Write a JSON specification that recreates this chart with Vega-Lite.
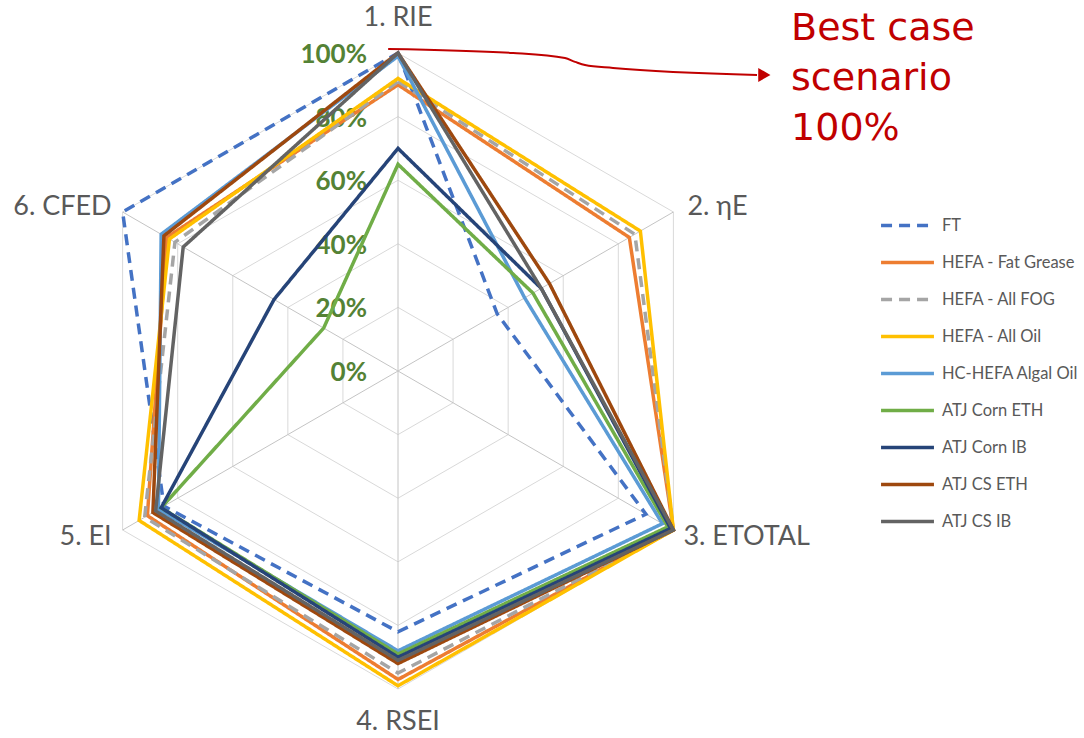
{
  "$schema": "https://vega.github.io/schema/vega-lite/v6.json",
  "width": 1084,
  "height": 738,
  "padding": 0,
  "autosize": {"type": "none"},
  "background": "white",
  "config": {
    "view": {"stroke": null},
    "font": "Lato",
    "legend": {
      "orient": "none",
      "legendX": 879,
      "legendY": 197,
      "title": null,
      "labelFont": "Lato",
      "labelFontSize": 16.5,
      "labelColor": "#595959",
      "labelOffset": 6,
      "symbolType": "stroke",
      "symbolSize": 2800,
      "symbolStrokeWidth": 3.5,
      "rowPadding": -8
    }
  },
  "datasets": {
    "metrics": [
      {"k": 0, "metric": "1. RIE"},
      {"k": 1, "metric": "2. ηE"},
      {"k": 2, "metric": "3. ETOTAL"},
      {"k": 3, "metric": "4. RSEI"},
      {"k": 4, "metric": "5. EI"},
      {"k": 5, "metric": "6. CFED"}
    ],
    "rings": [
      {"level": 0.2, "ks": [0, 1, 2, 3, 4, 5]},
      {"level": 0.4, "ks": [0, 1, 2, 3, 4, 5]},
      {"level": 0.6, "ks": [0, 1, 2, 3, 4, 5]},
      {"level": 0.8, "ks": [0, 1, 2, 3, 4, 5]},
      {"level": 1.0, "ks": [0, 1, 2, 3, 4, 5]}
    ],
    "levels": [
      {"level": 0}, {"level": 0.2}, {"level": 0.4}, {"level": 0.6}, {"level": 0.8}, {"level": 1.0}
    ],
    "scores": [
      {"pathway": "FT", "k": 0, "score": 1.00},
      {"pathway": "FT", "k": 1, "score": 0.36},
      {"pathway": "FT", "k": 2, "score": 0.90},
      {"pathway": "FT", "k": 3, "score": 0.82},
      {"pathway": "FT", "k": 4, "score": 0.85},
      {"pathway": "FT", "k": 5, "score": 1.00},
      {"pathway": "HEFA - Fat Grease", "k": 0, "score": 0.90},
      {"pathway": "HEFA - Fat Grease", "k": 1, "score": 0.84},
      {"pathway": "HEFA - Fat Grease", "k": 2, "score": 1.00},
      {"pathway": "HEFA - Fat Grease", "k": 3, "score": 0.97},
      {"pathway": "HEFA - Fat Grease", "k": 4, "score": 0.91},
      {"pathway": "HEFA - Fat Grease", "k": 5, "score": 0.84},
      {"pathway": "HEFA - All FOG", "k": 0, "score": 0.91},
      {"pathway": "HEFA - All FOG", "k": 1, "score": 0.86},
      {"pathway": "HEFA - All FOG", "k": 2, "score": 1.00},
      {"pathway": "HEFA - All FOG", "k": 3, "score": 0.95},
      {"pathway": "HEFA - All FOG", "k": 4, "score": 0.92},
      {"pathway": "HEFA - All FOG", "k": 5, "score": 0.81},
      {"pathway": "HEFA - All Oil", "k": 0, "score": 0.92},
      {"pathway": "HEFA - All Oil", "k": 1, "score": 0.88},
      {"pathway": "HEFA - All Oil", "k": 2, "score": 1.00},
      {"pathway": "HEFA - All Oil", "k": 3, "score": 0.99},
      {"pathway": "HEFA - All Oil", "k": 4, "score": 0.94},
      {"pathway": "HEFA - All Oil", "k": 5, "score": 0.83},
      {"pathway": "HC-HEFA Algal Oil", "k": 0, "score": 0.99},
      {"pathway": "HC-HEFA Algal Oil", "k": 1, "score": 0.46},
      {"pathway": "HC-HEFA Algal Oil", "k": 2, "score": 0.96},
      {"pathway": "HC-HEFA Algal Oil", "k": 3, "score": 0.88},
      {"pathway": "HC-HEFA Algal Oil", "k": 4, "score": 0.87},
      {"pathway": "HC-HEFA Algal Oil", "k": 5, "score": 0.86},
      {"pathway": "ATJ Corn ETH", "k": 0, "score": 0.65},
      {"pathway": "ATJ Corn ETH", "k": 1, "score": 0.49},
      {"pathway": "ATJ Corn ETH", "k": 2, "score": 0.98},
      {"pathway": "ATJ Corn ETH", "k": 3, "score": 0.89},
      {"pathway": "ATJ Corn ETH", "k": 4, "score": 0.86},
      {"pathway": "ATJ Corn ETH", "k": 5, "score": 0.27},
      {"pathway": "ATJ Corn IB", "k": 0, "score": 0.70},
      {"pathway": "ATJ Corn IB", "k": 1, "score": 0.52},
      {"pathway": "ATJ Corn IB", "k": 2, "score": 0.99},
      {"pathway": "ATJ Corn IB", "k": 3, "score": 0.90},
      {"pathway": "ATJ Corn IB", "k": 4, "score": 0.86},
      {"pathway": "ATJ Corn IB", "k": 5, "score": 0.45},
      {"pathway": "ATJ CS ETH", "k": 0, "score": 1.00},
      {"pathway": "ATJ CS ETH", "k": 1, "score": 0.55},
      {"pathway": "ATJ CS ETH", "k": 2, "score": 1.00},
      {"pathway": "ATJ CS ETH", "k": 3, "score": 0.92},
      {"pathway": "ATJ CS ETH", "k": 4, "score": 0.89},
      {"pathway": "ATJ CS ETH", "k": 5, "score": 0.85},
      {"pathway": "ATJ CS IB", "k": 0, "score": 1.00},
      {"pathway": "ATJ CS IB", "k": 1, "score": 0.52},
      {"pathway": "ATJ CS IB", "k": 2, "score": 1.00},
      {"pathway": "ATJ CS IB", "k": 3, "score": 0.91},
      {"pathway": "ATJ CS IB", "k": 4, "score": 0.88},
      {"pathway": "ATJ CS IB", "k": 5, "score": 0.78}
    ],
    "callout": [
      {"px": -0.031, "py": 1.013},
      {"px": 0.362, "py": 1.0},
      {"px": 0.525, "py": 0.984},
      {"px": 0.557, "py": 0.972},
      {"px": 0.588, "py": 0.962},
      {"px": 0.676, "py": 0.953},
      {"px": 1.129, "py": 0.931}
    ],
    "callout_head": [{"px": 1.152, "py": 0.931}],
    "callout_text": [{"px": 1.236, "py": 1.041}]
  },
  "encoding": {
    "x": {"field": "px", "type": "quantitative", "scale": {"domain": [-1.2516, 2.1572], "nice": false, "zero": false}, "axis": null},
    "y": {"field": "py", "type": "quantitative", "scale": {"domain": [-1.1541, 1.1667], "nice": false, "zero": false}, "axis": null}
  },
  "layer": [
    {
      "data": {"name": "rings"},
      "transform": [
        {"flatten": ["ks"], "as": ["k"]},
        {"calculate": "datum.level * sin(datum.k * PI / 3)", "as": "px"},
        {"calculate": "datum.level * cos(datum.k * PI / 3)", "as": "py"}
      ],
      "mark": {"type": "line", "interpolate": "linear-closed", "stroke": "#D9D9D9", "strokeWidth": 1},
      "encoding": {
        "detail": {"field": "level", "type": "nominal"},
        "order": {"field": "k", "type": "quantitative"}
      }
    },
    {
      "data": {"name": "metrics"},
      "transform": [
        {"calculate": "sin(datum.k * PI / 3)", "as": "px"},
        {"calculate": "cos(datum.k * PI / 3)", "as": "py"}
      ],
      "mark": {"type": "rule", "stroke": "#C4C4C4", "strokeWidth": 1},
      "encoding": {
        "x2": {"datum": 0},
        "y2": {"datum": 0}
      }
    },
    {
      "data": {"name": "levels"},
      "transform": [
        {"calculate": "0", "as": "px"},
        {"calculate": "datum.level", "as": "py"}
      ],
      "mark": {"type": "text", "align": "right", "baseline": "middle", "dx": -31, "dy": 2, "fontSize": 26, "fontWeight": "bold", "font": "Lato", "color": "#548235"},
      "encoding": {
        "text": {"field": "level", "type": "quantitative", "format": ".0%"}
      }
    },
    {
      "data": {"name": "scores"},
      "transform": [
        {"calculate": "datum.score * sin(datum.k * PI / 3)", "as": "px"},
        {"calculate": "datum.score * cos(datum.k * PI / 3)", "as": "py"}
      ],
      "mark": {"type": "line", "interpolate": "linear-closed", "strokeWidth": 3.5, "strokeJoin": "miter"},
      "encoding": {
        "order": {"field": "k", "type": "quantitative"},
        "color": {
          "field": "pathway",
          "type": "nominal",
          "sort": null,
          "scale": {
            "domain": ["FT", "HEFA - Fat Grease", "HEFA - All FOG", "HEFA - All Oil", "HC-HEFA Algal Oil", "ATJ Corn ETH", "ATJ Corn IB", "ATJ CS ETH", "ATJ CS IB"],
            "range": ["#4472C4", "#ED7D31", "#A5A5A5", "#FFC000", "#5B9BD5", "#70AD47", "#264478", "#9E480E", "#636363"]
          }
        },
        "strokeDash": {
          "field": "pathway",
          "type": "nominal",
          "sort": null,
          "scale": {
            "domain": ["FT", "HEFA - Fat Grease", "HEFA - All FOG", "HEFA - All Oil", "HC-HEFA Algal Oil", "ATJ Corn ETH", "ATJ Corn IB", "ATJ CS ETH", "ATJ CS IB"],
            "range": [[11, 7], [1, 0], [11, 7], [1, 0], [1, 0], [1, 0], [1, 0], [1, 0], [1, 0]]
          }
        }
      }
    },
    {
      "data": {"name": "metrics"},
      "transform": [
        {"filter": "datum.k == 0"},
        {"calculate": "sin(datum.k * PI / 3)", "as": "px"},
        {"calculate": "cos(datum.k * PI / 3)", "as": "py"}
      ],
      "mark": {"type": "text", "align": "center", "baseline": "middle", "dy": -35, "fontSize": 27, "font": "Lato", "color": "#595959"},
      "encoding": {"text": {"field": "metric"}}
    },
    {
      "data": {"name": "metrics"},
      "transform": [
        {"filter": "datum.k == 1"},
        {"calculate": "sin(datum.k * PI / 3)", "as": "px"},
        {"calculate": "cos(datum.k * PI / 3)", "as": "py"}
      ],
      "mark": {"type": "text", "align": "left", "baseline": "middle", "dx": 14, "dy": -5, "fontSize": 27, "font": "Lato", "color": "#595959"},
      "encoding": {"text": {"field": "metric"}}
    },
    {
      "data": {"name": "metrics"},
      "transform": [
        {"filter": "datum.k == 2"},
        {"calculate": "sin(datum.k * PI / 3)", "as": "px"},
        {"calculate": "cos(datum.k * PI / 3)", "as": "py"}
      ],
      "mark": {"type": "text", "align": "left", "baseline": "middle", "dx": 10, "dy": 7, "fontSize": 27, "font": "Lato", "color": "#595959"},
      "encoding": {"text": {"field": "metric"}}
    },
    {
      "data": {"name": "metrics"},
      "transform": [
        {"filter": "datum.k == 3"},
        {"calculate": "sin(datum.k * PI / 3)", "as": "px"},
        {"calculate": "cos(datum.k * PI / 3)", "as": "py"}
      ],
      "mark": {"type": "text", "align": "center", "baseline": "middle", "dy": 33, "fontSize": 27, "font": "Lato", "color": "#595959"},
      "encoding": {"text": {"field": "metric"}}
    },
    {
      "data": {"name": "metrics"},
      "transform": [
        {"filter": "datum.k == 4"},
        {"calculate": "sin(datum.k * PI / 3)", "as": "px"},
        {"calculate": "cos(datum.k * PI / 3)", "as": "py"}
      ],
      "mark": {"type": "text", "align": "right", "baseline": "middle", "dx": -11, "dy": 7, "fontSize": 27, "font": "Lato", "color": "#595959"},
      "encoding": {"text": {"field": "metric"}}
    },
    {
      "data": {"name": "metrics"},
      "transform": [
        {"filter": "datum.k == 5"},
        {"calculate": "sin(datum.k * PI / 3)", "as": "px"},
        {"calculate": "cos(datum.k * PI / 3)", "as": "py"}
      ],
      "mark": {"type": "text", "align": "right", "baseline": "middle", "dx": -11, "dy": -5, "fontSize": 27, "font": "Lato", "color": "#595959"},
      "encoding": {"text": {"field": "metric"}}
    },
    {
      "data": {"name": "callout"},
      "mark": {"type": "line", "interpolate": "monotone", "stroke": "#C00000", "strokeWidth": 2},
      "encoding": {"order": {"field": "px", "type": "quantitative"}}
    },
    {
      "data": {"name": "callout_head"},
      "mark": {"type": "point", "shape": "triangle-right", "filled": true, "color": "#C00000", "size": 200, "opacity": 1}
    },
    {
      "data": {"name": "callout_text"},
      "mark": {"type": "text", "align": "left", "baseline": "alphabetic", "fontSize": 38, "font": "DejaVu Sans", "color": "#C00000", "lineHeight": 50, "text": ["Best case", "scenario", "100%"]}
    }
  ]
}
